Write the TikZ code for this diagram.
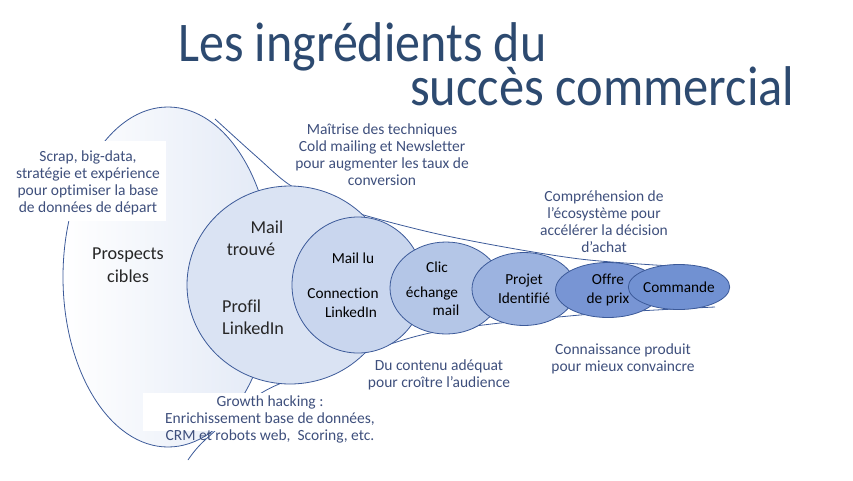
\documentclass[tikz,border=0pt]{standalone}
\usepackage{fontspec}
\setmainfont{Carlito}[Ligatures=NoCommon]
\usepackage{tikz}
\usetikzlibrary{shapes.geometric,positioning}

\definecolor{titlecol}{HTML}{2D4A70}
\definecolor{notecol}{HTML}{3E4F7C}
\definecolor{edgecol}{HTML}{3C5A99}
\definecolor{fond}{HTML}{E2E9F6}
\definecolor{fillA}{HTML}{DAE3F3}
\definecolor{fillB}{HTML}{C9D6EE}
\definecolor{fillC}{HTML}{B4C6E7}
\definecolor{fillD}{HTML}{9CB3E0}
\definecolor{fillE}{HTML}{7895D4}
\definecolor{fillF}{HTML}{7191D2}

\tikzset{
  stage/.style={ellipse, draw=edgecol, line width=0.8pt, inner sep=0pt},
  funnel/.style={draw=edgecol, line width=0.8pt},
  note/.style={text=notecol, align=center, font=\fontsize{15.5}{17}\selectfont},
  bigtext/.style={text=black!85, align=center, font=\fontsize{18.2}{22.5}\selectfont},
  smalltext/.style={text=black, align=center, font=\fontsize{15.3}{18.5}\selectfont},
  titre/.style={anchor=base west, inner sep=0pt, text=titlecol, font=\fontsize{50}{60}\selectfont},
}

\begin{document}
\begin{tikzpicture}[x=1pt,y=-1pt]
\useasboundingbox (0,0) rectangle (853,480);
% titre
\node[titre] (titre1) at (178,61) {\scalebox{1}[1.12]{Les ingrédients du}};
\node[titre] (titre2) at (410,105) {\scalebox{1.01}[1.12]{succès commercial}};

% prospects
\node[stage, left color=white, right color=fond, minimum width=210pt, minimum height=340pt] (prospects) at (168,277) {};

% entonnoir
\draw[funnel] plot[smooth] coordinates {(215,119) (257,157) (293,187) (347,210) (447,236) (580,259) (708,268)};
\draw[funnel] plot[smooth] coordinates {(188,460) (205,440) (263,392) (327,367) (430,333) (580,315) (715,307)};

% fonds blancs des textes
\fill[white] (12,141) rectangle (166,221);
\fill[white] (143,393) rectangle (400,431);

% etapes
\node[stage, fill=fillA, minimum width=206pt, minimum height=198pt] (trouve) at (290,285) {};
\node[stage, fill=fillB, minimum width=132pt, minimum height=136pt] (lu) at (358,285) {};
\node[stage, fill=fillC, minimum width=112pt, minimum height=92pt] (clic) at (446,288) {};
\node[stage, fill=fillD, minimum width=104pt, minimum height=73pt, smalltext] (projet) at (524,289) {Projet\\Identifié};
\node[stage, fill=fillE, minimum width=105pt, minimum height=55pt, smalltext] (offre) at (608,290) {Offre\\de prix};
\node[stage, fill=fillF, minimum width=96pt, minimum height=45pt, smalltext] (commande) at (679,287) {Commande};

\node[bigtext] (cibles) at (128,265) {Prospects\\cibles};
\node[bigtext] (mailtrouve) at (251,238) {\hspace*{32pt}Mail\\trouvé};
\node[bigtext, align=left, anchor=west, inner sep=0pt] (profil) at (222,317) {Profil\\LinkedIn};
\node[smalltext] (mailu) at (343,285) {\hspace*{20pt}Mail lu\\[17pt]Connection\\\hspace*{16pt}LinkedIn};
\node[smalltext] (echange) at (432,289) {\hspace*{10pt}Clic\\[6pt]échange\\\hspace*{28pt}mail};

% commentaires
\node[note] (scrap) at (88,183) {Scrap, big-data,\\stratégie et expérience\\pour optimiser la base\\de données de départ};
\node[note] (maitrise) at (382,155) {Maîtrise des techniques\\Cold mailing et Newsletter\\pour augmenter les taux de\\conversion};
\node[note] (contenu) at (439,375) {Du contenu adéquat\\pour croître l’audience};
\node[note] (comprehension) at (604,222) {Compréhension de\\l’écosystème pour\\accélérer la décision\\d’achat};
\node[note] (connaissance) at (623,359) {Connaissance produit\\pour mieux convaincre};
\node[note] (growth) at (270,419) {Growth hacking :\\Enrichissement base de données,\\CRM et robots web,\ \ Scoring, etc.};
\end{tikzpicture}
\end{document}
